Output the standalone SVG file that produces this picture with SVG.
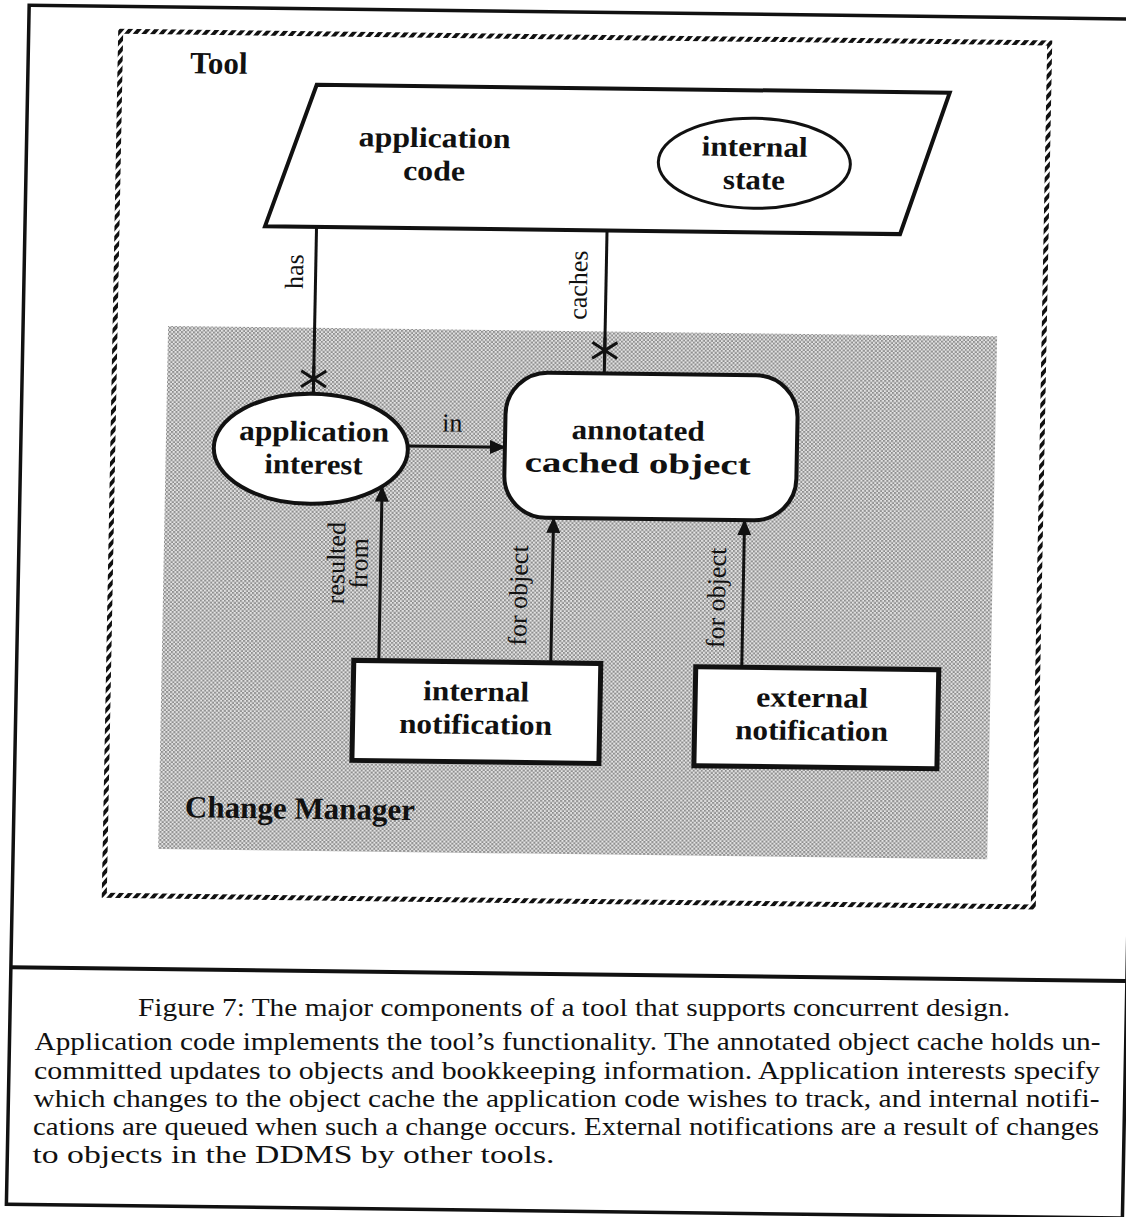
<svg xmlns="http://www.w3.org/2000/svg" width="1126" height="1217" viewBox="0 0 1126 1217">
  <style>
    .node-text { font-family: "Liberation Serif", "Times New Roman", serif; font-weight: bold; font-size: 28.5px; fill: #111; text-anchor: middle; }
    .title { font-family: "Liberation Serif", "Times New Roman", serif; font-weight: bold; font-size: 31px; fill: #111; }
    .label { font-family: "Liberation Serif", "Times New Roman", serif; font-size: 26px; fill: #111; text-anchor: middle; }
    .caption { font-family: "Liberation Serif", "Times New Roman", serif; font-size: 25px; fill: #111; }
    .shape { fill: #fff; stroke: #111; }
    .conn { stroke: #111; stroke-width: 3; fill: none; }
    .star { stroke: #111; stroke-width: 3; fill: none; }
  </style>
  <defs>
    <pattern id="halftone" width="4" height="4" patternUnits="userSpaceOnUse">
      <rect width="4" height="4" fill="#e4e4e4"/>
      <rect x="0" y="0" width="2" height="2" fill="#8e8e8e"/>
      <rect x="2" y="2" width="2" height="2" fill="#8e8e8e"/>
    </pattern>
    <!-- slanted hatch used to paint the dashed boundary -->
    <pattern id="slash" width="6.6" height="6.6" patternUnits="userSpaceOnUse" patternTransform="rotate(40)">
      <rect width="6.6" height="6.6" fill="#fff"/>
      <rect x="0" y="0" width="3.8" height="6.6" fill="#111"/>
    </pattern>
    <marker id="arrow" markerWidth="16" markerHeight="14" refX="15" refY="7" orient="auto" markerUnits="userSpaceOnUse">
      <path d="M0,0 L16,7 L0,14 Z" fill="#111"/>
    </marker>
  </defs>
  <rect width="1126" height="1217" fill="#fff"/>

  <!-- whole page is slightly skewed, as on a scanned sheet -->
  <g transform="matrix(1,0.0125,-0.019,1,11.4,-7.04)">
    <!-- page frame and caption rule -->
    <g id="frame">
      <rect x="18" y="12" width="1116" height="1199" fill="none" stroke="#111" stroke-width="3.5"/>
      <line x1="18" y1="974" x2="1134" y2="974" stroke="#111" stroke-width="4"/>
    </g>

    <!-- Tool boundary -->
    <g id="tool">
      <rect x="110" y="37" width="929" height="864" fill="none" stroke="url(#slash)" stroke-width="5"/>
      <text class="title" x="180" y="78">Tool</text>
    </g>

    <!-- Change Manager region -->
    <g id="change-manager">
      <rect x="163" y="331" width="829" height="523" fill="url(#halftone)"/>
      <text class="title" x="189" y="822">Change Manager</text>
    </g>

    <!-- connectors -->
    <g id="connectors">
      <line class="conn" x1="309.5" y1="230" x2="309.5" y2="397"/>
      <line class="conn" x1="600" y1="230" x2="600" y2="373"/>
      <line class="conn" x1="405" y1="448" x2="502" y2="448" marker-end="url(#arrow)"/>
      <line class="conn" x1="380" y1="663" x2="380" y2="489" marker-end="url(#arrow)"/>
      <line class="conn" x1="552" y1="663" x2="552" y2="518" marker-end="url(#arrow)"/>
      <line class="conn" x1="743" y1="665" x2="743" y2="518" marker-end="url(#arrow)"/>
      <!-- many-ends -->
      <path class="star" d="M309.5,369 V395 M297,374 L322,390 M297,390 L322,374"/>
      <path class="star" d="M600,337 V363 M587.5,342 L612.5,358 M587.5,358 L612.5,342"/>
      <!-- labels -->
      <text class="label" transform="translate(297,275) rotate(-90)">has</text>
      <text class="label" transform="translate(581,285) rotate(-90)">caches</text>
      <text class="label" x="449" y="433">in</text>
      <text class="label" transform="translate(344,566) rotate(-90)"><tspan x="0" y="0">resulted</tspan><tspan x="0" y="23">from</tspan></text>
      <text class="label" transform="translate(527,596) rotate(-90)">for object</text>
      <text class="label" transform="translate(725,596) rotate(-90)">for object</text>
    </g>

    <!-- nodes -->
    <g id="application-code">
      <polygon class="shape" points="307,88 940,88 893,230 258,230" stroke-width="4"/>
      <text class="node-text"><tspan x="426" y="149" textLength="152" lengthAdjust="spacingAndGlyphs">application</tspan><tspan x="426" y="182" textLength="62" lengthAdjust="spacingAndGlyphs">code</tspan></text>
    </g>
    <g id="internal-state">
      <ellipse class="shape" cx="746" cy="161" rx="96" ry="45" stroke-width="3"/>
      <text class="node-text"><tspan x="746" y="154" textLength="106" lengthAdjust="spacingAndGlyphs">internal</tspan><tspan x="746" y="187" textLength="62" lengthAdjust="spacingAndGlyphs">state</tspan></text>
    </g>
    <g id="application-interest">
      <ellipse class="shape" cx="308" cy="452" rx="97" ry="55" stroke-width="4"/>
      <text class="node-text"><tspan x="311" y="444" textLength="150" lengthAdjust="spacingAndGlyphs">application</tspan><tspan x="311" y="477" textLength="98" lengthAdjust="spacingAndGlyphs">interest</tspan></text>
    </g>
    <g id="annotated-cached-object">
      <rect class="shape" x="502" y="373" width="292" height="145" rx="42" ry="42" stroke-width="4"/>
      <text class="node-text"><tspan x="635" y="439" textLength="133" lengthAdjust="spacingAndGlyphs">annotated</tspan><tspan x="635" y="472" textLength="226" lengthAdjust="spacingAndGlyphs">cached object</tspan></text>
    </g>
    <g id="internal-notification">
      <rect class="shape" x="355" y="663" width="247" height="100" stroke-width="5"/>
      <text class="node-text"><tspan x="478" y="702" textLength="106" lengthAdjust="spacingAndGlyphs">internal</tspan><tspan x="478" y="735" textLength="153" lengthAdjust="spacingAndGlyphs">notification</tspan></text>
    </g>
    <g id="external-notification">
      <rect class="shape" x="697" y="665" width="243" height="99" stroke-width="5"/>
      <text class="node-text"><tspan x="814" y="704" textLength="112" lengthAdjust="spacingAndGlyphs">external</tspan><tspan x="814" y="737" textLength="153" lengthAdjust="spacingAndGlyphs">notification</tspan></text>
    </g>
  </g>

  <!-- caption, set as level lines -->
  <g id="caption">
    <text class="caption" x="138" y="1016" textLength="872" lengthAdjust="spacingAndGlyphs">Figure 7: The major components of a tool that supports concurrent design.</text>
    <text class="caption" x="34.5" y="1050" textLength="1066" lengthAdjust="spacingAndGlyphs">Application code implements the tool’s functionality. The annotated object cache holds un-</text>
    <text class="caption" x="34" y="1079" textLength="1066" lengthAdjust="spacingAndGlyphs">committed updates to objects and bookkeeping information. Application interests specify</text>
    <text class="caption" x="33.5" y="1107" textLength="1066" lengthAdjust="spacingAndGlyphs">which changes to the object cache the application code wishes to track, and internal notifi-</text>
    <text class="caption" x="33" y="1135" textLength="1066" lengthAdjust="spacingAndGlyphs">cations are queued when such a change occurs. External notifications are a result of changes</text>
    <text class="caption" x="32.5" y="1163" textLength="522" lengthAdjust="spacingAndGlyphs">to objects in the DDMS by other tools.</text>
  </g>
</svg>
